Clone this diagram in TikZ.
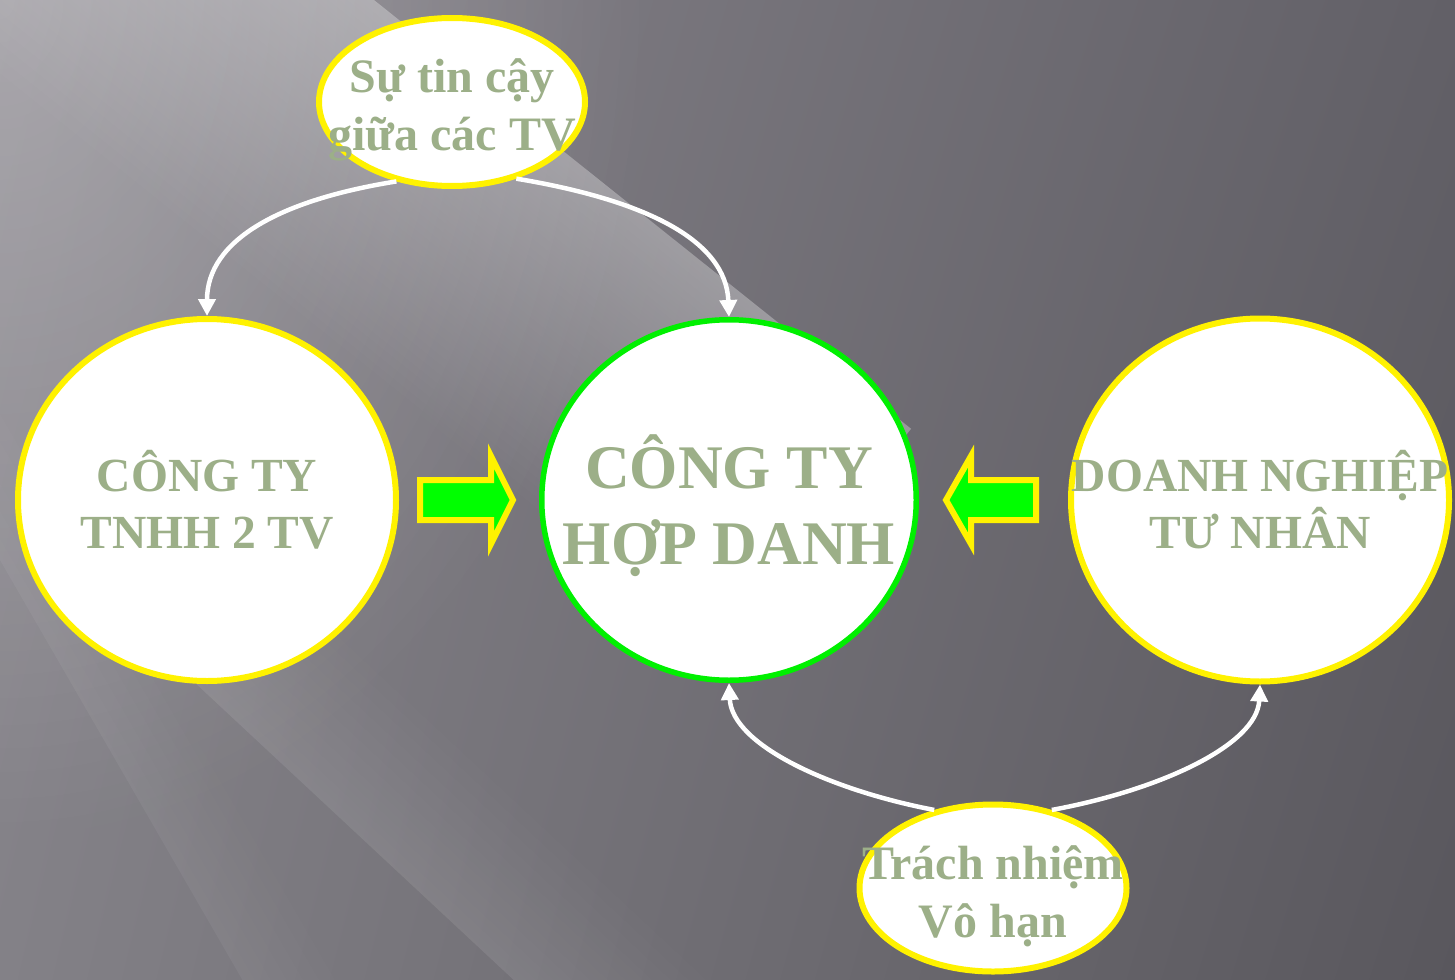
\documentclass[tikz,border=0pt]{standalone}
\usepackage{fontspec}
\setmainfont{Liberation Serif}
\usetikzlibrary{shapes.geometric,arrows.meta,shadings,fadings}
\definecolor{txt}{HTML}{9CAF88}
\definecolor{bgUL}{HTML}{8A878E}
\definecolor{bgUR}{HTML}{626067}
\definecolor{bgLL}{HTML}{838187}
\definecolor{bgLR}{HTML}{59575D}
\definecolor{arrowgreen}{HTML}{00FF00}
\definecolor{ringgreen}{HTML}{00F000}
\tikzfading[name=fadedown, top color=transparent!0, bottom color=transparent!100]
\tikzfading[name=fadeup, top color=transparent!100, bottom color=transparent!0]
\tikzfading[name=fadeglow, inner color=transparent!0, outer color=transparent!100]
\tikzset{
  bub/.style={ellipse, draw=yellow, line width=6pt, fill=white, inner sep=0pt},
  lbl/.style={text=txt, align=center, inner sep=0pt},
  smalltxt/.style={font=\bfseries\fontsize{48}{58}\selectfont},
  midtxt/.style={font=\bfseries\fontsize{47.5}{57}\selectfont},
  bigtxt/.style={font=\bfseries\fontsize{62}{76}\selectfont},
  conn/.style={draw=white, line width=4.5pt, -{Triangle[width=17pt,length=17pt]}},
  blockarrow/.style={draw=yellow, line width=6pt, fill=arrowgreen, line join=miter},
}
\begin{document}
\begin{tikzpicture}[x=1pt,y=-1pt]
\useasboundingbox (0,0) rectangle (1455,979);
% background
\shade[upper left=bgUL, upper right=bgUR, lower left=bgLL, lower right=bgLR] (0,0) rectangle (1455,979);
\fill[white, opacity=0.27, path fading=fadeglow] (0,0) ellipse [x radius=650, y radius=850];
\begin{scope}[transform canvas={shift={(374,0)}, rotate=-38.6}]
  \fill[white, opacity=0.3, path fading=fadedown] (-600,0) rectangle (690,300);
\end{scope}
\begin{scope}[transform canvas={shift={(192,680)}, rotate=-43}]
  \fill[white, opacity=0.09, path fading=fadeup] (-200,-140) rectangle (600,0);
\end{scope}
\begin{scope}[transform canvas={shift={(0,560)}, rotate=-60}]
  \fill[white, opacity=0.05, path fading=fadeup] (-200,-90) rectangle (600,0);
\end{scope}

% nodes
\node[bub, minimum width=266pt, minimum height=168pt] (trust) at (452,102) {};
\node[bub, minimum width=378pt, minimum height=362pt] (tnhh) at (207,500) {};
\node[bub, draw=ringgreen, line width=5.5pt, minimum width=374.5pt, minimum height=360.5pt] (hd) at (729,500) {};
\node[bub, minimum width=378pt, minimum height=363pt] (dntn) at (1260,500) {};
\node[bub, minimum width=267pt, minimum height=167pt] (tn) at (993,888) {};

\node[lbl, smalltxt] (trustL) at (452,110) {Sự tin cậy\\giữa các TV};
\node[lbl, midtxt] (tnhhL) at (207,500) {CÔNG TY\\TNHH 2 TV};
\node[lbl, bigtxt] (hdL) at (729,506) {CÔNG TY\\HỢP DANH};
\node[lbl, midtxt] (dntnL) at (1260,500) {DOANH NGHIỆP\\TƯ NHÂN};
\node[lbl, smalltxt] (tnL) at (993,896) {Trách nhiệm\\Vô hạn};

% block arrows
\draw[blockarrow] (420,480) -- (491,480) -- (491,456) -- (513,500) -- (491,544) -- (491,520) -- (420,520) -- cycle;
\draw[blockarrow] (946,500) -- (971,456) -- (971,480) -- (1036,480) -- (1036,520) -- (971,520) -- (971,544) -- cycle;

% connectors
\draw[conn] (trust.235) .. controls (280,200) and (207,240) .. (tnhh.north);
\draw[conn] (trust.310) .. controls (645,200) and (726,240) .. (hd.north);
\draw[conn] (tn.127) .. controls (830,790) and (732,745) .. (hd.south);
\draw[conn] (tn.53) .. controls (1160,790) and (1257,745) .. (dntn.south);
\end{tikzpicture}
\end{document}
